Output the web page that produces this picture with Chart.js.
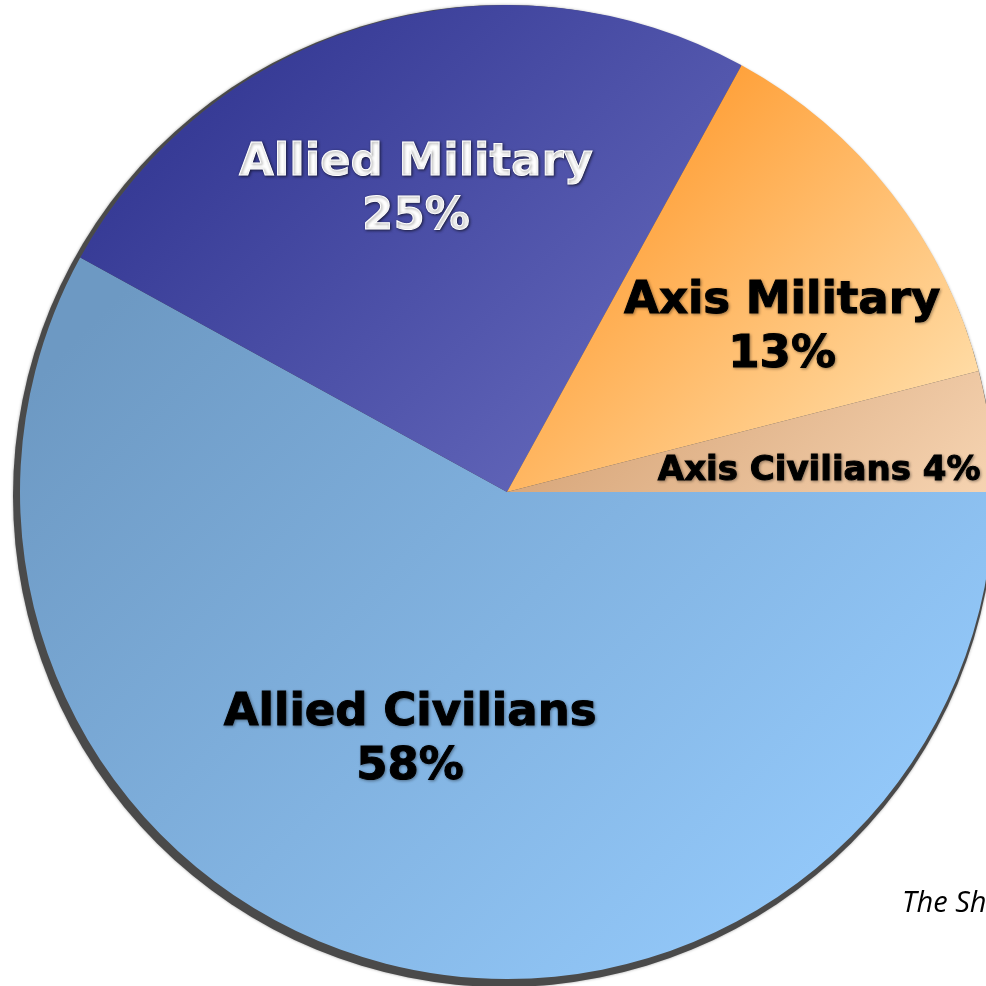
<!DOCTYPE html>
<html>
<head>
<meta charset="utf-8">
<script src="https://cdn.jsdelivr.net/npm/chart.js@4"></script>
<style>
  html, body { margin: 0; padding: 0; background: #fff; overflow: hidden; }
  #wrap { position: relative; width: 986px; height: 986px; overflow: hidden; }
  #caption {
    position: absolute; left: 902px; top: 881px;
    font: italic 29px "Open Sans", "Noto Sans", sans-serif; color: #000;
    white-space: nowrap;
  }
</style>
</head>
<body>
<div id="wrap">
  <canvas id="pieChart" width="1014" height="986"></canvas>
  <div id="caption">The Sh</div>
</div>
<script>
const labels = ["Allied Civilians", "Allied Military", "Axis Military", "Axis Civilians"];
const shares = [58, 25, 13, 4];

// gradient stops along the top-left -> bottom-right diagonal
const fills = [
  [[0.2, "#6d99c3"], [0.85, "#92c7f8"]],
  [[0.15, "#373b96"], [0.5, "#5e62b6"]],
  [[0.4, "#ffa23c"], [0.68, "#ffdba4"]],
  [[0.5, "#d9a87c"], [0.75, "#f6d4b2"]],
];

const textSpots = [
  { lines: ["Allied Civilians", "58%"], dx: -0.199, dy: 0.478, size: 45, color: "#000" },
  { lines: ["Allied Military", "25%"], dx: -0.187, dy: -0.651, size: 45, color: "#fff" },
  { lines: ["Axis Military", "13%"], dx: 0.565, dy: -0.368, size: 45, color: "#000" },
  { lines: ["Axis Civilians 4%"], dx: 0.641, dy: -0.025, size: 34, color: "#000" },
];

const rimShadow = {
  id: "rimShadow",
  beforeDatasetsDraw(chart) {
    const arc = chart.getDatasetMeta(0).data[0];
    if (!arc) return;
    const c = chart.ctx;
    c.save();
    c.fillStyle = "#4a4a4a";
    c.shadowColor = "rgba(0,0,0,0.35)";
    c.shadowBlur = 3;
    c.beginPath();
    c.arc(arc.x - 3, arc.y + 4, arc.outerRadius + 4, 0, Math.PI * 2);
    c.fill();
    c.restore();
  },
};

const sliceText = {
  id: "sliceText",
  afterDatasetsDraw(chart) {
    const arc = chart.getDatasetMeta(0).data[0];
    if (!arc) return;
    const c = chart.ctx;
    const r = arc.outerRadius;
    c.save();
    c.textAlign = "center";
    c.textBaseline = "alphabetic";
    textSpots.forEach((t) => {
      c.font = "bold " + t.size + "px 'DejaVu Sans', Verdana, sans-serif";
      c.fillStyle = t.color;
      c.strokeStyle = t.color;
      c.lineWidth = 1;
      c.shadowColor = t.color === "#fff" ? "rgba(0,0,0,0.6)" : "rgba(0,0,0,0.35)";
      c.shadowBlur = 3;
      c.shadowOffsetX = 1;
      c.shadowOffsetY = 1;
      t.lines.forEach((ln, k) => {
        const y = arc.y + t.dy * r + k * 54;
        c.fillText(ln, arc.x + t.dx * r, y);
        c.strokeText(ln, arc.x + t.dx * r, y);
      });
    });
    c.restore();
  },
};

new Chart(document.getElementById("pieChart"), {
  type: "pie",
  data: {
    labels: labels,
    datasets: [
      {
        data: shares,
        borderWidth: 0,
        backgroundColor: (ctx) => {
          const area = ctx.chart.chartArea;
          if (!area) return "#888";
          const g = ctx.chart.ctx.createLinearGradient(area.left, area.top, area.right, area.bottom);
          fills[ctx.dataIndex].forEach((s) => g.addColorStop(s[0], s[1]));
          return g;
        },
      },
    ],
  },
  options: {
    responsive: false,
    animation: false,
    rotation: 90,
    layout: { padding: { left: 20, right: 20, top: 5, bottom: 7 } },
    plugins: {
      legend: { display: false },
      tooltip: { enabled: false },
    },
  },
  plugins: [rimShadow, sliceText],
});
</script>
</body>
</html>
